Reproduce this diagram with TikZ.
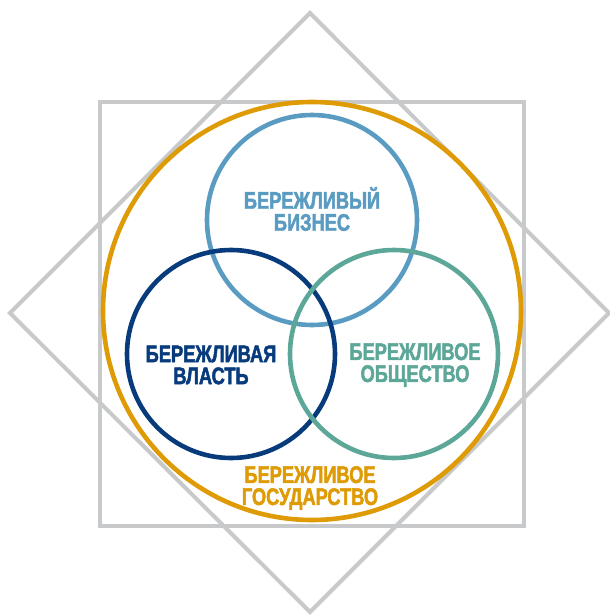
\documentclass[tikz,border=0pt]{standalone}
\usepackage{fontspec}
\newfontfamily\lblfont{Liberation Sans}[UprightFont={* Bold},FakeStretch=0.76,FakeBold=2]
\definecolor{cgray}{HTML}{C8C9CA}
\definecolor{corange}{HTML}{DE9B05}
\definecolor{clblue}{HTML}{5A9BC2}
\definecolor{cdblue}{HTML}{073B7C}
\definecolor{cgreen}{HTML}{5DA799}
\begin{document}
\begin{tikzpicture}[x=1pt,y=-1pt,
  ring/.style={circle,draw,line width=4.6pt,inner sep=0pt},
  frame/.style={draw=cgray,line width=4pt},
  label/.style={align=center,font=\lblfont\fontsize{24}{22}\selectfont,inner sep=0pt}]
\useasboundingbox (0,0) rectangle (610,616);
\draw[frame,line join=miter] (310,13) coordinate (dt) -- (609,313) coordinate (dr) -- (310,612) coordinate (db) -- (10,313) coordinate (dl) -- cycle;
\draw[frame] (100,102) coordinate (s1) rectangle (524,526) coordinate (s2);
\node[ring,draw=corange,minimum size=418pt] (gov) at (312,311) {};
\node[ring,draw=clblue,minimum size=210pt] (biz) at (312,220) {};
\node[ring,draw=cdblue,minimum size=208pt] (pow) at (231,354) {};
\node[ring,draw=cgreen,minimum size=208pt] (soc) at (394,354) {};
\node[label,text=clblue] (tbiz) at (312,209) {БЕРЕЖЛИВЫЙ\\БИЗНЕС};
\node[label,text=cdblue] (tpow) at (211,365) {БЕРЕЖЛИВАЯ\\ВЛАСТЬ};
\node[label,text=cgreen] (tsoc) at (415,365) {БЕРЕЖЛИВОЕ\\ОБЩЕСТВО};
\node[label,text=corange] (tgov) at (310,488) {БЕРЕЖЛИВОЕ\\ГОСУДАРСТВО};
\end{tikzpicture}
\end{document}
